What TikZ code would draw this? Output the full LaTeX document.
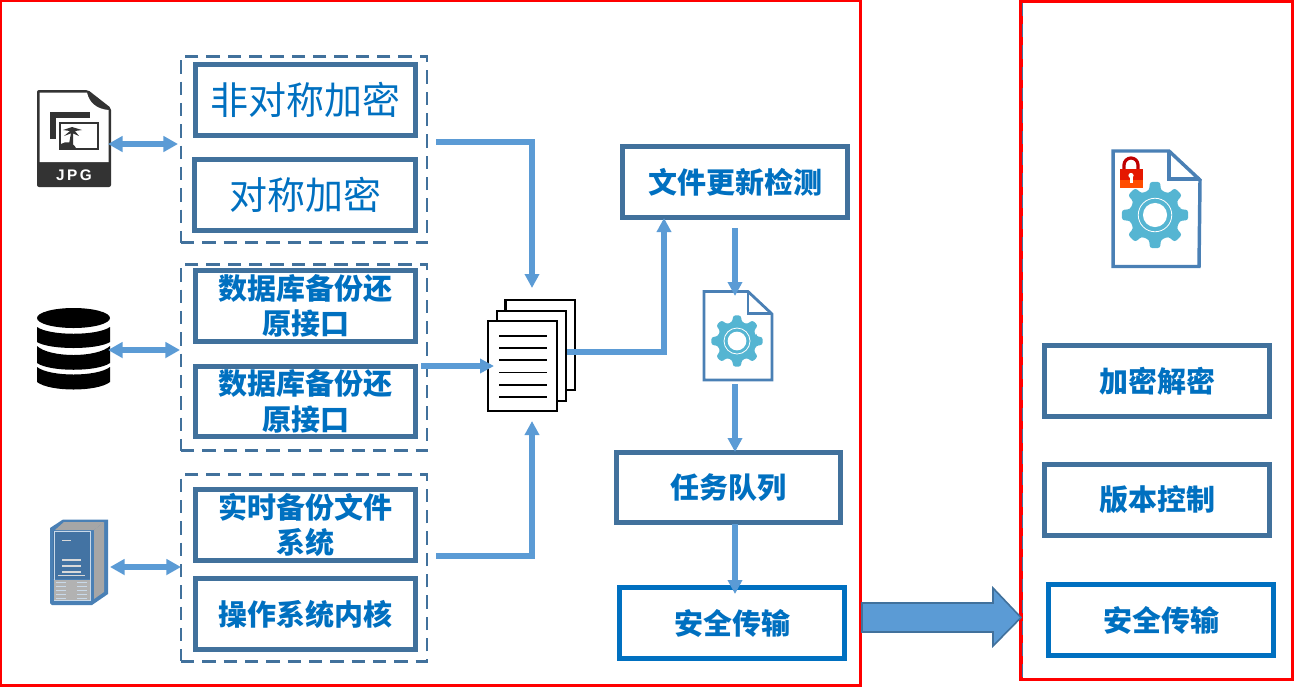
\documentclass[tikz,border=0pt]{standalone}
\usepackage{fontspec}
\setmainfont{Noto Sans CJK SC}
\newfontfamily\latinbold{Liberation Sans}
\usetikzlibrary{arrows.meta,calc}
\definecolor{boxblue}{HTML}{41719C}
\definecolor{txtblue}{HTML}{0070C0}
\definecolor{arrblue}{HTML}{5B9BD5}
\definecolor{gearblue}{HTML}{55B5D2}
\definecolor{filedge}{HTML}{4A80B5}
\definecolor{dark}{HTML}{333333}
\newcommand{\gearicon}[3]{% cx cy r
  \begin{scope}[shift={(#1,#2)}]
  \fill[gearblue,rounded corners=2pt] (-13:#3*0.76)
    \foreach \a in {0,45,...,315} {
      -- (\a-13:#3*0.76) -- (\a-9:#3) -- (\a+9:#3) -- (\a+13:#3*0.76)
    } -- cycle;
  \draw[white,line width=0.6pt] (0,0) circle[radius=#3*0.5];
  \fill[white] (0,0) circle[radius=#3*0.36];
  \end{scope}
}
\tikzset{
  x=0.75pt,y=-0.75pt,
  solidbox/.style={draw=boxblue,line width=3.75pt,fill=white,inner sep=0pt,minimum width=165.5pt,minimum height=53pt,text=txtblue,font=\bfseries\fontsize{21.75}{26.5}\selectfont,align=center},
  widebox/.style={solidbox,minimum width=168.5pt},
  thinbox/.style={solidbox,font=\fontsize{28.5}{32}\selectfont},
  bluebox/.style={widebox,draw=txtblue},
  groupbox/.style={draw=boxblue,line width=2.2pt,dash pattern=on 10pt off 6pt,inner sep=0pt,minimum width=184.5pt,minimum height=140pt},
  flow/.style={draw=arrblue,line width=4pt,-{Triangle[length=10.5pt,width=10.5pt]}},
  both/.style={draw=arrblue,line width=4pt,{Triangle[length=11pt,width=11.5pt]}-{Triangle[length=11pt,width=11.5pt]}},
  frame/.style={draw=red,line width=2.6pt,inner sep=0pt},
  sheet/.style={draw=black,line width=1.7pt,fill=white},
  rule/.style={draw=black,line width=0.9pt},
  fileline/.style={draw=filedge,line width=2.1pt,line join=miter},
}
\begin{document}
\begin{tikzpicture}
\useasboundingbox (0,0) rectangle (1294,687);
% frames
\node[frame,minimum width=645pt,minimum height=513.5pt] (left) at (430.5,343) {};
\node[frame,minimum width=204pt,minimum height=508.5pt] (right) at (1157,340.5) {};
\draw[boxblue,line width=1.2pt,dash pattern=on 10pt off 6pt] ($(right.north west)+(3.4,3)$) -- ($(right.south west)+(3.4,-3)$);
% dashed groups
\node[groupbox] (g1) at (304,149.5) {};
\node[groupbox] (g2) at (304,357.5) {};
\node[groupbox] (g3) at (304,568) {};
% left boxes
\node[thinbox] (b1) at (305.5,100) {非对称加密};
\node[thinbox] (b2) at (305,195) {对称加密};
\node[solidbox] (b3) at (305.5,306) {数据库备份还\\原接口};
\node[solidbox] (b4) at (305.5,401.5) {数据库备份还\\原接口};
\node[solidbox] (b5) at (305.5,525) {实时备份文件\\系统};
\node[solidbox] (b6) at (305.5,614) {操作系统内核};
% middle boxes
\node[widebox] (c1) at (735,182) {文件更新检测};
\node[widebox] (c2) at (728.5,487.5) {任务队列};
\node[bluebox] (c3) at (732,623) {安全传输};
% right boxes
\node[widebox] (d1) at (1157,381) {加密解密};
\node[widebox] (d2) at (1157,500) {版本控制};
\node[bluebox] (d3) at (1161,620) {安全传输};
% JPG icon
\fill[dark,rounded corners=1.5pt] (37,90) -- (88,90) -- (111,108) -- (111,187) -- (37,187) -- cycle;
\fill[white] (39.5,92.5) -- (87,92.5) .. controls (89,102) and (96,109) .. (108.5,110) -- (108.5,162) -- (39.5,162) -- cycle;
\fill[dark] (50,112) rectangle (90,139);
\fill[white] (56,118) rectangle (91,140);
\fill[dark] (59,122) rectangle (99,150);
\fill[white] (61,124) rectangle (97,148);
\fill[dark] (61,148) -- (61,144) .. controls (66,141) and (72,141) .. (76,148) -- cycle;
\fill[dark] (69,144) -- (71,133) -- (73,133) -- (73,144) -- cycle;
\fill[dark] (72,127) -- (63,130) -- (70,131) -- (64,136) -- (72,133) -- (79,136) -- (75,131) -- (82,130) -- cycle;
\node[text=white,font=\latinbold\bfseries\fontsize{11.5}{11.5}\selectfont,inner sep=0pt] (jpgtext) at (74,175) {J\,P\,G};
\coordinate (jpg) at (108,144);
% database icon
\fill[black] (73.5,318) ellipse[x radius=36.5,y radius=10];
\fill[black] (37,327) .. controls (50,336) and (97,336) .. (110,327) -- (110,342) .. controls (97,350) and (50,350) .. (37,342) -- cycle;
\fill[black] (37,346) .. controls (50,358) and (97,358) .. (110,346) -- (110,363) .. controls (97,372) and (50,372) .. (37,363) -- cycle;
\fill[black] (37,367) .. controls (50,377) and (97,377) .. (110,367) -- (110,382) .. controls (97,392) and (50,392) .. (37,382) -- cycle;
\coordinate (db) at (108,350);
% server icon
\fill[filedge] (50,528) -- (63,519.5) -- (108,519.5) -- (108,594) -- (92,605) -- (52,605) -- (50,603) -- cycle;
\fill[gray!70] (64,522) -- (104,522) -- (94,530) -- (55,530) -- cycle;
\fill[gray!70] (94,530) -- (104,522) -- (104,592) -- (94,599) -- cycle;
\fill[filedge!90!black] (53,531) rectangle (90,579);
\draw[white!70!filedge,line width=0.5pt] (54,531.5) rectangle (90,600);
\fill[gray!60] (54,580) rectangle (90,600);
\foreach \yy in {560,566,572}{\draw[gray!30,line width=0.8pt] (62,\yy) -- (81,\yy);}
\draw[gray!30,line width=0.8pt] (58,575.5) -- (85,575.5);
\draw[gray!30,line width=0.5pt] (62,540) -- (71,540);
\foreach \yy in {582,586,590,594,598}{\draw[white!70!filedge,line width=0.6pt] (56,\yy) -- (66,\yy) (77,\yy) -- (87,\yy);}
\coordinate (srv) at (110,567);
% stacked pages
\draw[sheet] (505.5,300) rectangle (575,390);
\draw[sheet] (497,311) rectangle (566,401);
\node[sheet,inner sep=0pt,minimum width=51.5pt,minimum height=67.5pt] (pages) at (522.5,366) {};
\foreach \yy in {336,348,360,372.5,385,397}{\draw[rule] (499,\yy) -- (547,\yy);}
% small file icon
\draw[fileline,fill=white] (704,291.5) -- (748,291.5) -- (772,314) -- (772,380) -- (704,380) -- cycle;
\draw[fileline] (748,291.5) -- (748,313.5) -- (772,313.5);
\gearicon{737}{341}{26}
% big file icon
\draw[fileline,line width=2.6pt] (1113,151) -- (1169,151) -- (1200,180) -- (1199,266.5) -- (1113,266.5) -- cycle;
\draw[fileline,line width=2.6pt] (1169,151) -- (1169,179) -- (1200,179);
\gearicon{1155}{215}{33.5}
\draw[red!75!black,line width=2.4pt] (1124,172) -- (1124,165) arc[start angle=180,end angle=360,radius=7] -- (1138,172);
\fill[red!80!orange!90!black] (1120,169) rectangle (1143,188);
\fill[orange!60!red] (1120,180) rectangle (1143,188);
\fill[white] (1131,175.5) circle[radius=2.6];
\fill[white] (1130,176) rectangle (1132.5,183);
% connectors
\coordinate (a1) at ($(g1.east)+(8,-7.5)$);
\coordinate (a1t) at (532,288);
\draw[flow] (a1) -- (a1 -| a1t) -- (a1t);
\coordinate (a2) at ($(g3.east)+(8,-12)$);
\coordinate (a2t) at (532,421);
\draw[flow] (a2) -- (a2 -| a2t) -- (a2t);
\coordinate (a3) at (421,366);
\draw[flow] (a3) -- (494,366);
\coordinate (a4) at (567,352);
\draw[flow] (a4) -- (664,352) -- (664,218);
\coordinate (a5) at (735,228);
\draw[flow] (a5) -- (735,296);
\coordinate (a6) at (735,384);
\draw[flow] (a6) -- (735,452);
\coordinate (a7) at (735,524);
\draw[flow] (a7) -- (735,594);
\draw[both] (jpg) -- (178,144);
\draw[both] (db) -- (180,350);
\draw[both] (srv) -- (181,567);
% block arrow
\draw[draw=boxblue,fill=arrblue,line width=1.2pt,line join=miter] (862,603) -- (993,603) -- (993,588) -- (1021,617.5) -- (993,646) -- (993,632) -- (862,632) -- cycle;
\end{tikzpicture}
\end{document}
